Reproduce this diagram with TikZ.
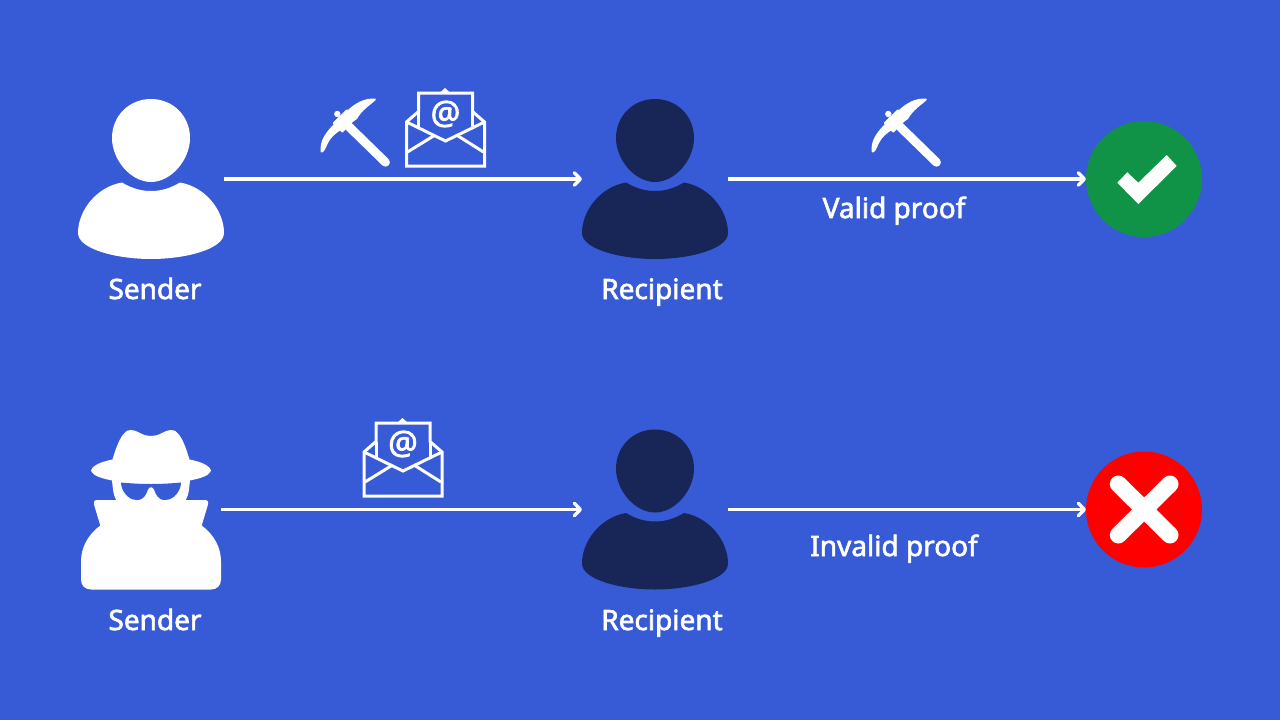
\documentclass[tikz,border=0pt]{standalone}
\usepackage{fontspec}
\setmainfont{Fira Sans}
\newfontfamily\lblfont[FakeBold=2.2]{Noto Sans}
\usetikzlibrary{arrows.meta}
\definecolor{bgblue}{RGB}{55,90,214}
\definecolor{navy}{RGB}{23,37,87}
\definecolor{okgreen}{RGB}{16,147,70}
\definecolor{badred}{RGB}{255,0,0}
\tikzset{
  iconbox/.style={inner sep=0pt,outer sep=0pt,minimum width=#1},
  personbox/.style={iconbox=146pt,minimum height=160pt},
  spybox/.style={iconbox=140pt,minimum height=160pt},
  statusdot/.style={circle,inner sep=0pt,outer sep=0pt,minimum size=116pt,fill=#1},
  flow/.style={draw=white,line width=3.8pt,-{Straight Barb[length=6pt,width=12.5pt,line width=3.4pt,round]}},
  lbl/.style={text=white,font=\lblfont\fontsize{28}{32}\selectfont,inner sep=0pt,anchor=base},
  pics/person/.style={code={
    \fill[#1] (0,-80) .. controls (22,-80) and (39,-63) .. (39,-41)
      .. controls (39,-19) and (20,3) .. (0,3)
      .. controls (-20,3) and (-39,-19) .. (-39,-41)
      .. controls (-39,-63) and (-22,-80) .. (0,-80) -- cycle;
    \fill[#1] (-29,3.5) .. controls (-18,10) and (-9,12) .. (0,12)
      .. controls (9,12) and (18,10) .. (29,3.5)
      .. controls (55,8) and (73,32) .. (73,54)
      .. controls (73,70) and (35,80) .. (0,80)
      .. controls (-35,80) and (-73,70) .. (-73,54)
      .. controls (-73,32) and (-55,8) .. (-29,3.5) -- cycle;
  }},
  pics/spy/.style={code={
    \fill[white] (-60,-39) .. controls (-58,-45) and (-48,-48) .. (-38.5,-50)
      .. controls (-35,-62) and (-31,-72) .. (-27,-76)
      .. controls (-24,-81) and (-17,-80) .. (-12,-77)
      .. controls (-6,-74) and (-4,-73.5) .. (0,-73.5)
      .. controls (4,-73.5) and (6,-74) .. (12,-77)
      .. controls (17,-80) and (24,-81) .. (27,-76)
      .. controls (31,-72) and (35,-62) .. (38.5,-50)
      .. controls (48,-48) and (58,-45) .. (60,-39)
      .. controls (58,-33) and (48,-31) .. (39,-29)
      .. controls (38,-20) and (38,-15) .. (34.5,-9)
      -- (-34.5,-9)
      .. controls (-38,-15) and (-38,-20) .. (-39,-29)
      .. controls (-48,-31) and (-58,-33) .. (-60,-39) -- cycle;
    \fill[white] (-54,-9.5) -- (54,-9.5)
      .. controls (57,-9.5) and (58,-7) .. (57,-5)
      -- (50.7,16)
      .. controls (63,25) and (70,38) .. (70,52)
      -- (70,70) .. controls (70,76) and (66,80) .. (60,80)
      -- (-60,80) .. controls (-66,80) and (-70,76) .. (-70,70)
      -- (-70,52)
      .. controls (-70,38) and (-63,25) .. (-50.7,16)
      -- (-57,-5)
      .. controls (-58,-7) and (-57,-9.5) .. (-54,-9.5) -- cycle;
    \fill[bgblue] (-30,-27) .. controls (-10,-25) and (10,-25) .. (30,-27)
      .. controls (30,-20) and (24,-9.5) .. (14,-9.5)
      .. controls (7,-9.5) and (5,-15) .. (3,-20)
      .. controls (2,-23) and (-2,-23) .. (-3,-20)
      .. controls (-5,-15) and (-7,-9.5) .. (-14,-9.5)
      .. controls (-24,-9.5) and (-30,-20) .. (-30,-27) -- cycle;
  }},
  pics/pickaxe/.style={code={
    \draw[white,line width=8.8pt,line cap=round] (-6,-3.3) -- (30.5,32.3);
    \fill[white] (20.7,-31.5) .. controls (9,-32) and (1,-27) .. (-6,-21)
      -- (-20,-7) .. controls (-29,2) and (-36,11) .. (-34.2,22.5)
      .. controls (-31,23.5) and (-29.5,18) .. (-27,13)
      .. controls (-24,7) and (-19,3) .. (-14,0)
      -- (2,-11) .. controls (7,-20) and (14,-24) .. (20.7,-30) -- cycle;
    \fill[white,rounded corners=1pt] (-22.5,-7) -- (-8,-21) -- (1.5,-12) -- (-12.7,3) -- cycle;
    \fill[white] (-17.7,-16) circle (3.2);
  }},
  pics/envelope/.style={code={
    \draw[white,line width=3pt,line join=miter]
      (-39,-6) -- (-27,-16.5) -- (-27,-35) -- (27,-35) -- (27,-16.5) -- (39,-6) -- (39,38) -- (-39,38) -- cycle;
    \draw[white,line width=3pt] (-39,-6) -- (0,13) -- (39,-6);
    \draw[white,line width=3pt] (-27,-16.5) -- (-27,0) (27,-16.5) -- (27,0);
    \draw[white,line width=3pt] (-38,24) -- (-12,8) (38,24) -- (11,7);
    \fill[white] (-6,-35) -- (-0.5,-40) -- (5,-35) -- cycle;
    \node[text=white,font=\lblfont\fontsize{33}{36}\selectfont,inner sep=0pt] (at) at (0,-14) {@};
  }},
}
\begin{document}
\begin{tikzpicture}[x=1pt,y=-1pt]
\fill[bgblue] (0,0) rectangle (1280,720);
\useasboundingbox (0,0) rectangle (1280,720);

\node[personbox] (s1) at (151,179) {};
\node[personbox] (r1) at (655,179) {};
\node[statusdot=okgreen] (ok) at (1144,179) {};
\node[spybox] (s2) at (151,509.5) {};
\node[personbox] (r2) at (655,509.5) {};
\node[statusdot=badred] (bad) at (1144,509.5) {};

\pic at (s1) {person=white};
\pic at (r1) {person=navy};
\pic at (r2) {person=navy};
\pic at (s2) {spy};

\pic at (355,130) {pickaxe};
\pic at (906,130) {pickaxe};
\pic (e1) at (445.5,128) {envelope};
\pic (e2) at (403,458) {envelope};

\draw[flow] (s1.east) -- (r1.west);
\draw[flow] (r1.east) -- (ok.west);
\draw[flow] (s2.east) -- (r2.west);
\draw[flow] (r2.east) -- (bad.west);

\fill[white] (1117.3,182.7) -- (1127.3,172.3) -- (1138.3,182.7) -- (1166.7,155) -- (1176.7,166) -- (1138.3,204) -- cycle;
\draw[white,line width=17pt,line cap=round] (1118.3,484) -- (1170,535) (1170,484) -- (1118.3,535);

\node[lbl] (l1) at (155,299) {Sender};
\node[lbl] (l2) at (662,299) {Recipient};
\node[lbl] (l3) at (894,218) {Valid proof};
\node[lbl] (l4) at (155,630) {Sender};
\node[lbl] (l5) at (662,630) {Recipient};
\node[lbl] (l6) at (894,556) {Invalid proof};
\end{tikzpicture}
\end{document}
